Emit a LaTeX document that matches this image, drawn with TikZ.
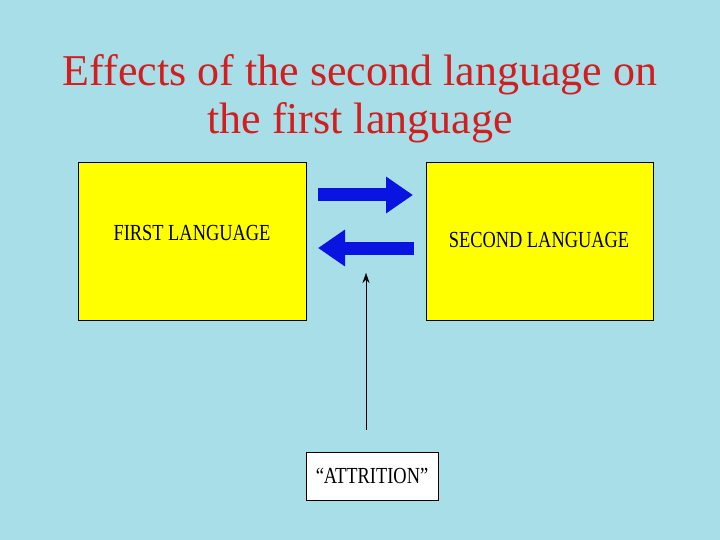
\documentclass[tikz,border=0pt]{standalone}
\usepackage{fontspec}
\setmainfont{Liberation Serif}
\newfontfamily\narrowfont[FakeStretch=0.8, Ligatures=TeX]{Liberation Serif}
\usetikzlibrary{arrows.meta}
\begin{document}
\begin{tikzpicture}[x=1pt,y=-1pt,
  langbox/.style={draw=black, thin, fill=langyellow, inner sep=0pt},
  boxtext/.style={font=\narrowfont\fontsize{23}{26}\selectfont},
  bluearrow/.style={draw=arrowblue, line width=13pt,
    -{Triangle[length=27pt, width=35pt]}}]
  % Define colors
  \definecolor{slidebg}{RGB}{168,222,232}
  \definecolor{langyellow}{RGB}{255,255,0}
  \definecolor{arrowblue}{RGB}{10,20,225}
  \definecolor{titlered}{RGB}{210,30,30}

  % Background of the slide
  \fill[slidebg] (0,0) rectangle (720,540);
  \useasboundingbox (0,0) rectangle (720,540);

  % Title
  \node[titlered, align=center, font=\fontsize{44}{48}\selectfont] (title) at (360,99)
    {Effects of the second language on\\the first language};

  % The two language boxes
  \node[langbox, minimum width=228pt, minimum height=158pt] (first) at (192,241) {};
  \node[boxtext] (firstlbl) at (192,233) {FIRST LANGUAGE};
  \node[langbox, minimum width=227pt, minimum height=158pt] (second) at (539.5,241) {};
  \node[boxtext] (secondlbl) at (539,240) {SECOND LANGUAGE};

  % Influence arrows between the languages
  \coordinate (rstart) at (318,195);
  \coordinate (rend) at (413,195);
  \coordinate (lstart) at (414,248);
  \coordinate (lend) at (318,248);
  \draw[bluearrow] (rstart) -- (rend);
  \draw[bluearrow] (lstart) -- (lend);

  % Attrition box and its arrow
  \node[draw=black, thin, fill=white, minimum width=132pt, minimum height=48pt,
    boxtext] (attrition) at (372,476) {“ATTRITION”};
  \coordinate (attrtip) at (366,273);
  \draw[-{Stealth[length=10pt, width=7pt]}, thin] (attrition.north -| attrtip) ++(0,-22) -- (attrtip);
\end{tikzpicture}
\end{document}
